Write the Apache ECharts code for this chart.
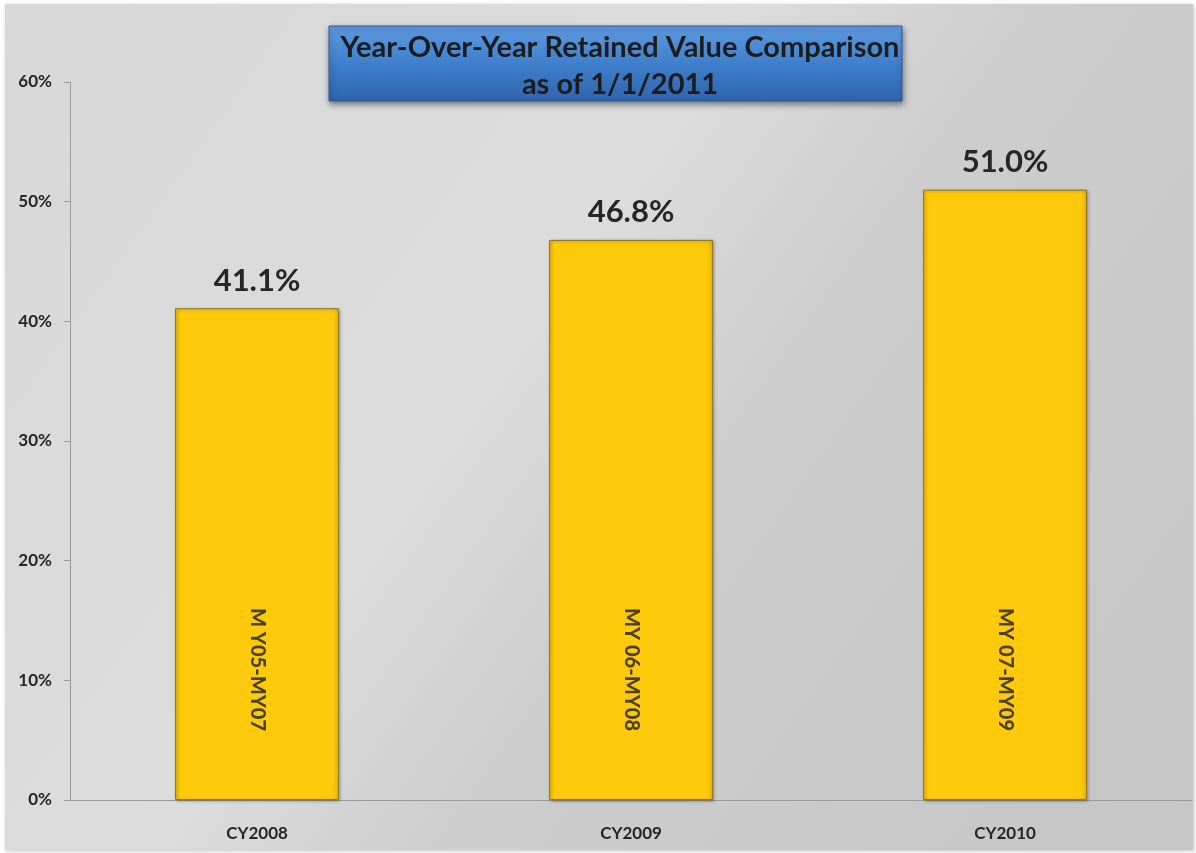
<!DOCTYPE html>
<html>
<head>
<meta charset="utf-8">
<style>
  html, body { margin: 0; padding: 0; background: #ffffff; }
  #chart { width: 1196px; height: 853px; }
</style>
<script src="https://cdn.jsdelivr.net/npm/echarts@6/dist/echarts.min.js"></script>
</head>
<body>
<div id="chart"></div>
<script>
// Calendar years compared
const categories = ['CY2008', 'CY2009', 'CY2010'];
// Retained value, percent
const retainedValues = [41.1, 46.8, 51.0];
// Model-year ranges written inside each bar
const modelYearRanges = ['M Y05-MY07', 'MY 06-MY08', 'MY 07-MY09'];
// Height (percent) at which the model-year text is centred
const rangeLabelLevel = [10.9, 10.9, 10.9];
// Value axis ticks
const axisMin = 0, axisMax = 60, axisStep = 10;

const chart = echarts.init(document.getElementById('chart'), null, { renderer: 'canvas' });

const FONT = 'Lato, "Open Sans", sans-serif';
const TEXT = '#262626';

chart.setOption({
  animation: false,
  backgroundColor: '#ffffff',
  graphic: [
    {
      type: 'rect', z: -10, silent: true,
      shape: { x: 5, y: 4, width: 1188, height: 846 },
      style: {
        fill: new echarts.graphic.LinearGradient(0, 0, 1, 1, [
          { offset: 0, color: '#d8d8d8' },
          { offset: 0.42, color: '#dcdcdc' },
          { offset: 0.58, color: '#cdcdcd' },
          { offset: 1, color: '#c6c6c6' }
        ]),
        shadowBlur: 4, shadowColor: 'rgba(0,0,0,0.25)', shadowOffsetX: 1, shadowOffsetY: 1
      }
    },
    {
      type: 'rect', z: 10, silent: true,
      shape: { x: 329, y: 26, width: 573, height: 75 },
      style: {
        fill: new echarts.graphic.LinearGradient(0, 0, 0, 1, [
          { offset: 0, color: '#5d9be0' },
          { offset: 0.5, color: '#3f7fcc' },
          { offset: 1, color: '#2f64ad' }
        ]),
        stroke: '#2c5a9a', lineWidth: 1,
        shadowBlur: 6, shadowColor: 'rgba(0,0,0,0.45)', shadowOffsetX: 1, shadowOffsetY: 3
      }
    }
  ],
  title: {
    text: 'Year-Over-Year Retained Value Comparison\nas of 1/1/2011',
    left: 615, top: 24,
    textAlign: 'center',
    z: 12,
    textStyle: {
      fontFamily: FONT, fontWeight: 'bold', fontSize: 29,
      lineHeight: 37, color: '#1c1c1c', align: 'center'
    }
  },
  grid: { left: 70, right: 4, top: 82, bottom: 53, containLabel: false },
  xAxis: {
    type: 'category',
    data: categories,
    axisLine: { show: true, lineStyle: { color: '#9a9a9a', width: 1 } },
    axisTick: { show: false },
    axisLabel: {
      margin: 25, color: TEXT, fontFamily: FONT, fontWeight: 'bold', fontSize: 17
    }
  },
  yAxis: {
    type: 'value',
    min: axisMin, max: axisMax, interval: axisStep,
    splitLine: { show: false },
    axisLine: { show: true, lineStyle: { color: '#9a9a9a', width: 1 } },
    axisTick: { show: true, length: 6, lineStyle: { color: '#9a9a9a' } },
    axisLabel: {
      formatter: '{value}%', margin: 18,
      color: TEXT, fontFamily: FONT, fontWeight: 'bold', fontSize: 17
    }
  },
  series: [
    {
      type: 'bar',
      data: retainedValues,
      barWidth: 164,
      itemStyle: {
        color: new echarts.graphic.LinearGradient(0, 0, 1, 0, [
          { offset: 0, color: '#f2bb05' },
          { offset: 0.04, color: '#ffca0c' },
          { offset: 0.96, color: '#ffca0c' },
          { offset: 1, color: '#eab405' }
        ]),
        borderColor: '#8f7a2c', borderWidth: 1,
        shadowBlur: 3, shadowColor: 'rgba(0,0,0,0.3)', shadowOffsetX: 1, shadowOffsetY: 1
      },
      label: {
        show: true, position: 'top', distance: 12,
        formatter: p => p.value.toFixed(1) + '%',
        color: TEXT, fontFamily: FONT, fontWeight: 'bold', fontSize: 31
      }
    },
    {
      type: 'scatter',
      data: rangeLabelLevel,
      symbolSize: 0,
      z: 5,
      label: {
        show: true, position: 'inside', rotate: -90,
        formatter: p => modelYearRanges[p.dataIndex],
        color: '#1e1e1e', fontFamily: FONT, fontWeight: 900, fontSize: 20
      }
    }
  ]
});
</script>
</body>
</html>
